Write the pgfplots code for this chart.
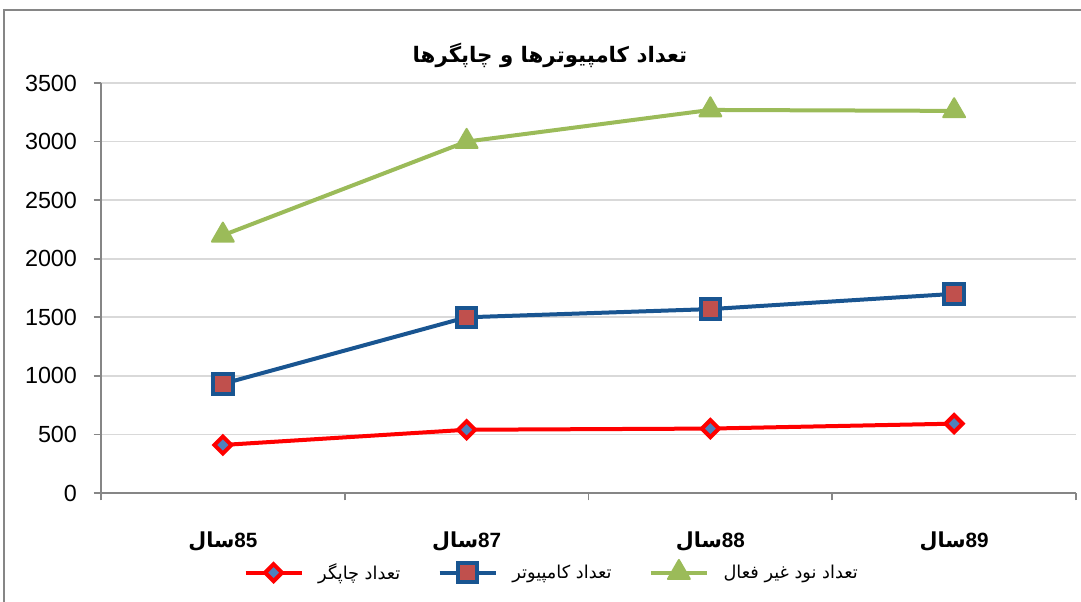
\documentclass[border=0pt]{standalone}
\usepackage{pgfplots}
\pgfplotsset{compat=1.18}
\usepackage{fontspec}
\setmainfont{Liberation Sans}
\newfontfamily\arabicfont[Script=Arabic]{DejaVu Sans}
\TeXXeTstate=1
\definecolor{cRed}{RGB}{255,0,0}
\definecolor{cBlue}{RGB}{25,85,145}
\definecolor{cGreen}{RGB}{155,187,89}
\definecolor{cFillBlue}{RGB}{79,129,189}
\definecolor{cFillRed}{RGB}{192,80,77}
\definecolor{cAxis}{RGB}{134,134,134}
\definecolor{cGrid}{RGB}{217,217,217}
\begin{document}
\begin{tikzpicture}[x=1pt,y=1pt]
\useasboundingbox (0,0) rectangle (810.75,450.75);
\draw[color=cAxis, line width=1.3pt] (3.2,-20) rectangle (830,443.2);
\node[font=\arabicfont\bfseries\fontsize{16}{19}\selectfont] at (412.5,409.5) {\beginR تعداد کامپیوترها و چاپگرها\endR};
\begin{axis}[
  at={(75.75pt,81pt)}, anchor=south west,
  scale only axis, width=731.25pt, height=307.5pt,
  xmin=-0.5, xmax=3.5, ymin=0, ymax=3500,
  ytick={0,500,...,3500},
  xtick={0,1,2,3},
  xticklabels={{{\arabicfont\bfseries\beginR سال\endR}85},{{\arabicfont\bfseries\beginR سال\endR}87},{{\arabicfont\bfseries\beginR سال\endR}88},{{\arabicfont\bfseries\beginR سال\endR}89}},
  minor xtick={-0.5,0.5,1.5,2.5,3.5},
  axis x line*=bottom, axis y line*=left,
  axis line style={draw=cAxis, line width=1.3pt, -},
  ymajorgrids,
  major grid style={draw=cGrid, line width=1.3pt},
  tick align=outside,
  major tick length=5.5pt, minor tick length=5.5pt,
  major tick style={draw=cAxis, line width=1.3pt},
  minor tick style={draw=cAxis, line width=1.3pt},
  major x tick style={draw=none},
  /pgf/number format/assume math mode=true,
  /pgf/number format/1000 sep={},
  yticklabel style={font=\fontsize{17.5}{20}\selectfont, xshift=-9pt},
  xticklabel style={font=\bfseries\fontsize{15.5}{18}\selectfont, yshift=-20pt},
  legend columns=3,
  legend style={at={(0.4626,-0.193)}, anchor=center, draw=none, fill=none,
    font=\arabicfont\fontsize{13.3}{16}\selectfont,
    /tikz/every odd column/.append style={column sep=9pt},
    /tikz/every even column/.append style={column sep=26pt}},
  legend image code/.code={\draw[mark repeat=2,mark phase=2,#1] plot coordinates {(0pt,0pt) (21pt,0pt) (42pt,0pt)};},
  clip=false,
]
\addplot[cRed, line width=3pt, mark=square*, mark size=4.5pt,
  mark options={rotate=45, draw=cRed, fill=cFillBlue, line width=3pt}]
  coordinates {(0,410) (1,540) (2,550) (3,592)};
\addlegendentry{\beginR تعداد چاپگر\endR}
\addplot[cBlue, line width=3pt, mark=square*, mark size=7.3pt,
  mark options={draw=cBlue, fill=cFillRed, line width=3pt}]
  coordinates {(0,932) (1,1500) (2,1570) (3,1700)};
\addlegendentry{\beginR تعداد کامپیوتر\endR}
\addplot[cGreen, line width=3pt, mark=triangle*, mark size=9.5pt,
  mark options={draw=cGreen, fill=cGreen, line width=1.5pt, line join=round}]
  coordinates {(0,2200) (1,3000) (2,3270) (3,3262)};
\addlegendentry{\beginR تعداد نود غیر فعال\endR}
\end{axis}
\end{tikzpicture}
\end{document}
